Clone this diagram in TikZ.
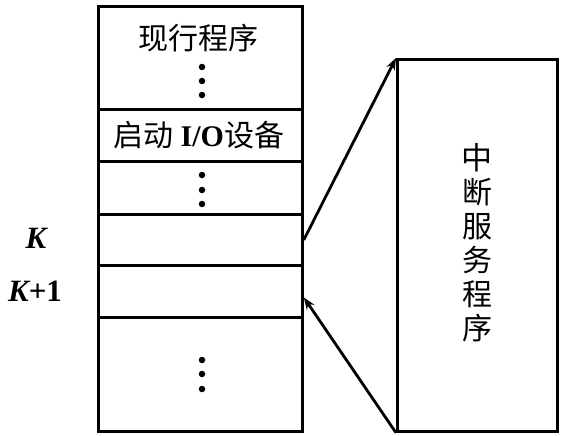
\documentclass[tikz,border=0pt]{standalone}
\usepackage{fontspec}
\setmainfont{Liberation Serif}
\newfontfamily\cjk{Noto Sans CJK SC}
\usetikzlibrary{arrows.meta,calc}
\begin{document}
\begin{tikzpicture}[x=1pt,y=-1pt,
  rowbox/.style={draw,line width=2.8pt,minimum width=204pt,inner sep=0pt,anchor=north west},
  lbl/.style={font=\fontsize{30}{34}\selectfont\cjk,inner sep=0pt},
  klbl/.style={font=\fontsize{31}{34}\selectfont\bfseries,inner sep=0pt},
  vdot/.style={circle,fill,inner sep=0pt,minimum size=6.5pt},
  conn/.style={line width=2.8pt,-{Stealth[length=12pt,width=9pt]}}]
\useasboundingbox (0,0) rectangle (562,436);
\node[rowbox,minimum height=103pt] (r1) at (97,5) {};
\node[rowbox,minimum height=52pt] (r2) at (97,108) {};
\node[rowbox,minimum height=53pt] (r3) at (97,160) {};
\node[rowbox,minimum height=51pt] (r4) at (97,213) {};
\node[rowbox,minimum height=52pt] (r5) at (97,264) {};
\node[rowbox,minimum height=114pt] (r6) at (97,316) {};
\node[draw,line width=2.8pt,minimum width=160pt,minimum height=372pt,inner sep=0pt,anchor=north west] (svc) at (396,58) {};
\node[lbl] (t1) at (198,38) {现行程序};
\node[lbl] (t2) at (199,135) {启动 {\rmfamily\bfseries I/O}设备};
\node[lbl,align=center] (t3) at (477,243) {\fontsize{31}{35}\selectfont 中\\断\\服\\务\\程\\序};
\node[klbl] (k1) at (36,238) {\itshape K};
\node[klbl] (k2) at (35,291) {{\itshape K}+1};
\foreach \y [count=\i] in {67,81,95} \node[vdot] (da\i) at (202,\y) {};
\foreach \y [count=\i] in {175,190,204} \node[vdot] (db\i) at (202,\y) {};
\foreach \y [count=\i] in {360,374,389} \node[vdot] (dc\i) at (202,\y) {};
\coordinate (ret) at ($(r5.east)+(0,6)$);
\draw[conn] (r4.east) -- (svc.north west);
\draw[conn] (svc.south west) -- (ret);
\end{tikzpicture}
\end{document}
